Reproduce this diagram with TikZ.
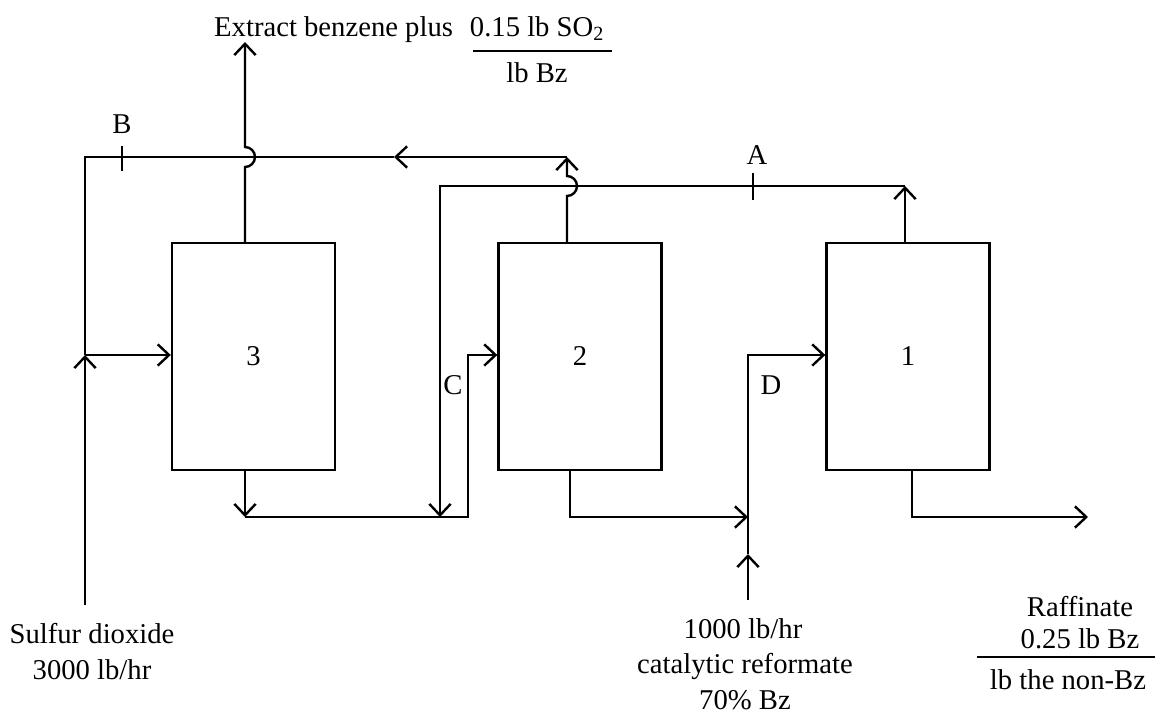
\documentclass[tikz,border=0pt]{standalone}
\usepackage{fontspec}
\setmainfont{Liberation Serif}
\usetikzlibrary{arrows.meta}
\begin{document}
\begin{tikzpicture}[x=0.75pt,y=-0.75pt,
  line width=1.8pt,
  every node/.style={font=\fontsize{21.5}{27}\selectfont, inner sep=0pt},
  box/.style={draw, minimum width=122.25pt, minimum height=170.25pt},
  arr/.style={-{Straight Barb[length=8.5pt,width=16pt]}},
  txt/.style={anchor=base}]
\useasboundingbox (0,0) rectangle (1160,715);

% columns
\node[box] (b3) at (253.5,356.5) {3};
\node[box] (b2) at (580,356.5) {2};
\node[box] (b1) at (908,356.5) {1};

% coordinates
\coordinate (so2) at (85,605);
\coordinate (j1) at (85,355);
\coordinate (tl) at (85,157);
\coordinate (rmid) at (394,157);
\coordinate (r2) at (567,157);
\coordinate (t2) at (567,243);
\coordinate (t3) at (245,243);
\coordinate (ext) at (245,42);
\coordinate (t1) at (905,243);
\coordinate (a1) at (905,186);
\coordinate (ac) at (440,186);
\coordinate (ad) at (440,517);
\coordinate (o3) at (245,470);
\coordinate (o3d) at (245,517);
\coordinate (cj) at (468,517);
\coordinate (cu) at (468,355);
\coordinate (o2) at (570,470);
\coordinate (o2d) at (570,517);
\coordinate (fj) at (748,517);
\coordinate (feed) at (748,600);
\coordinate (fm) at (748,554);
\coordinate (fu) at (748,355);
\coordinate (o1) at (912,470);
\coordinate (o1d) at (912,517);
\coordinate (raf) at (1088,517);

% SO2 feed and recycle to column 3
\draw[arr] (so2) -- (j1);
\draw[arr] (j1) -- (j1 -| b3.west);
\draw[arr] (t2) -- (567,196) arc[start angle=90,end angle=-90,radius=10] -- (r2);
\draw[arr] (r2) -- (rmid);
\draw (rmid) -- (tl) -- (j1);
% extract
\draw[arr] (t3) -- (245,167) arc[start angle=90,end angle=-90,radius=10] -- (ext);
% A stream
\draw[arr] (t1) -- (a1);
\draw[arr] (a1) -- (ac) -- (ad);
% column 3 bottom to column 2
\draw[arr] (o3) -- (o3d);
\draw[arr] (o3d) -- (cj) -- (cu) -- (cu -| b2.west);
% column 2 bottom
\draw[arr] (o2) -- (o2d) -- (fj);
% feed
\draw[arr] (feed) -- (fm);
\draw[arr] (fm) -- (fu) -- (fu -| b1.west);
% raffinate
\draw[arr] (o1) -- (o1d) -- (raf);

% ticks
\draw (122,146) -- (122,171);
\draw (753,173) -- (753,200);
\node (lB) at (122,124) {B};
\node (lA) at (757,155) {A};
\node (lC) at (453,385) {C};
\node (lD) at (771,385) {D};

% top label
\node[txt,anchor=base west] (e1) at (213,36) {Extract benzene plus};
\node[txt] (e2) at (537,36) {0.15 lb SO\textsubscript{2}};
\draw (473,51) -- (612,51);
\node[txt] (e3) at (537,82) {lb Bz};

% sulfur dioxide
\node[txt] (s1) at (92,643) {Sulfur dioxide};
\node[txt] (s2) at (92,679) {3000 lb/hr};

% reformate
\node[txt] (f1) at (743,638) {1000 lb/hr};
\node[txt] (f2) at (745,673) {catalytic reformate};
\node[txt] (f3) at (745,709) {70\% Bz};

% raffinate
\node[txt] (q1) at (1080,616) {Raffinate};
\node[txt] (q2) at (1080,648) {0.25 lb Bz};
\draw (977,657) -- (1155,657);
\node[txt] (q3) at (1068,689) {lb the non-Bz};
\end{tikzpicture}
\end{document}
